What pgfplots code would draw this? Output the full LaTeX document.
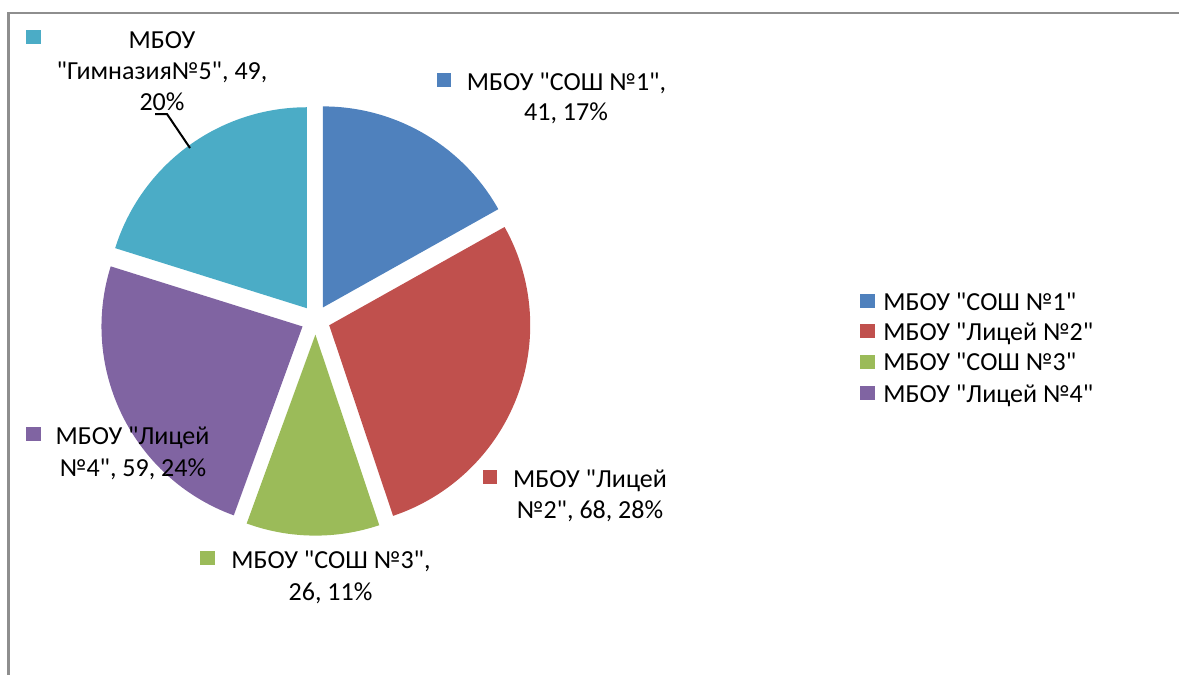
\documentclass[border=0pt]{standalone}
\usepackage{pgfplots}
\usepackage{pgfplotstable}
\pgfplotsset{compat=1.18}
\usepackage{fontspec}
\setmainfont{Carlito}[Ligatures=TeXOff]
\definecolor{cA}{HTML}{4F81BD}
\definecolor{cB}{HTML}{C0504D}
\definecolor{cC}{HTML}{9BBB59}
\definecolor{cD}{HTML}{8064A2}
\definecolor{cE}{HTML}{4BACC6}
\definecolor{frame}{HTML}{8E8E8E}
\pgfplotstableread{
idx value
1 41
2 68
3 26
4 59
5 49
}\piedata
\tikzset{lbl/.style={font=\fontsize{13}{15}\selectfont, inner sep=0pt, anchor=base},
         lbw/.style={font=\fontsize{13}{15}\selectfont, inner sep=0pt, anchor=base west}}
\begin{document}
\begin{tikzpicture}
\pgfplotstablegetelem{0}{value}\of\piedata \pgfmathsetmacro{\vA}{\pgfplotsretval}
\pgfplotstablegetelem{1}{value}\of\piedata \pgfmathsetmacro{\vB}{\pgfplotsretval}
\pgfplotstablegetelem{2}{value}\of\piedata \pgfmathsetmacro{\vC}{\pgfplotsretval}
\pgfplotstablegetelem{3}{value}\of\piedata \pgfmathsetmacro{\vD}{\pgfplotsretval}
\pgfplotstablegetelem{4}{value}\of\piedata \pgfmathsetmacro{\vE}{\pgfplotsretval}
\pgfmathsetmacro{\tot}{\vA+\vB+\vC+\vD+\vE}
\pgfmathsetmacro{\sA}{90}
\pgfmathsetmacro{\sB}{\sA-\vA/\tot*360}
\pgfmathsetmacro{\sC}{\sB-\vB/\tot*360}
\pgfmathsetmacro{\sD}{\sC-\vC/\tot*360}
\pgfmathsetmacro{\sE}{\sD-\vD/\tot*360}
\pgfmathsetmacro{\sF}{\sE-\vE/\tot*360}
\begin{axis}[x=0.5pt, y=0.5pt, xmin=0, xmax=1179, ymin=0, ymax=675, y dir=reverse,
  hide axis, clip=false, scale only axis]
% slices (exploded)
\fill[cA] (axis cs:315.6,320) ++({(\sA+\sB)/2}:7.3pt) -- ++(\sA:100.5pt) arc[start angle=\sA, end angle=\sB, radius=100.5pt] -- cycle;
\fill[cB] (axis cs:315.6,320) ++({(\sB+\sC)/2}:7.3pt) -- ++(\sB:100.5pt) arc[start angle=\sB, end angle=\sC, radius=100.5pt] -- cycle;
\fill[cC] (axis cs:315.6,320) ++({(\sC+\sD)/2}:7.3pt) -- ++(\sC:100.5pt) arc[start angle=\sC, end angle=\sD, radius=100.5pt] -- cycle;
\fill[cD] (axis cs:315.6,320) ++({(\sD+\sE)/2}:7.3pt) -- ++(\sD:100.5pt) arc[start angle=\sD, end angle=\sE, radius=100.5pt] -- cycle;
\fill[cE] (axis cs:315.6,320) ++({(\sE+\sF)/2}:7.3pt) -- ++(\sE:100.5pt) arc[start angle=\sE, end angle=\sF, radius=100.5pt] -- cycle;
% frame
\draw[frame, line width=1.1pt] (axis cs:8.5,675) -- (axis cs:8.5,13) -- (axis cs:1179,13);
% data labels
\fill[cE] (axis cs:26,30) rectangle (axis cs:41,44);
\node[lbl] at (axis cs:162,48) {МБОУ};
\node[lbl] at (axis cs:162,79) {"Гимназия№5", 49,};
\node[lbl] at (axis cs:162,110) {20\%};
\draw[line width=1pt] (axis cs:155,114) -- (axis cs:167,114) -- (axis cs:190,148);

\fill[cA] (axis cs:437,73) rectangle (axis cs:451,87);
\node[lbl] at (axis cs:566.5,90) {МБОУ "СОШ №1",};
\node[lbl] at (axis cs:566,120) {41, 17\%};

\fill[cB] (axis cs:483,470) rectangle (axis cs:497,484);
\node[lbl] at (axis cs:590,487) {МБОУ "Лицей};
\node[lbl] at (axis cs:590,518) {№2", 68, 28\%};

\fill[cC] (axis cs:200,551) rectangle (axis cs:215,565);
\node[lbl] at (axis cs:331,568) {МБОУ "СОШ №3",};
\node[lbl] at (axis cs:330.5,600) {26, 11\%};

\fill[cD] (axis cs:26,427) rectangle (axis cs:41,441);
\node[lbl] at (axis cs:132.5,444) {МБОУ "Лицей};
\node[lbl] at (axis cs:133,476) {№4", 59, 24\%};
% legend
\fill[cA] (axis cs:860,294) rectangle (axis cs:875,308);
\node[lbw] at (axis cs:883,310) {МБОУ "СОШ №1"};
\fill[cB] (axis cs:860,324) rectangle (axis cs:875,338);
\node[lbw] at (axis cs:883,340) {МБОУ "Лицей №2"};
\fill[cC] (axis cs:860,355) rectangle (axis cs:875,369);
\node[lbw] at (axis cs:883,370.5) {МБОУ "СОШ №3"};
\fill[cD] (axis cs:860,386) rectangle (axis cs:875,400);
\node[lbw] at (axis cs:883,402) {МБОУ "Лицей №4"};
\end{axis}
\pgfresetboundingbox
\path (current axis.south west) rectangle (current axis.north east);
\end{tikzpicture}
\end{document}
